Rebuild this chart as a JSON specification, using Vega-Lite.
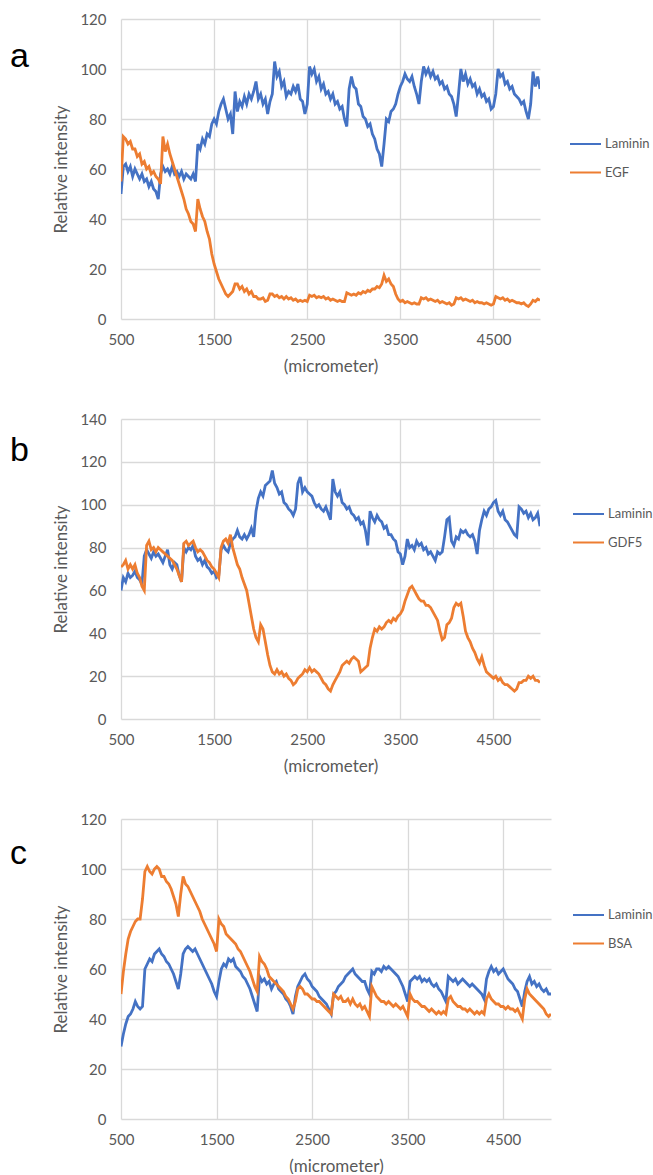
{
  "$schema": "https://vega.github.io/schema/vega-lite/v6.json",
  "padding": {"left": 10, "top": 12, "right": 0, "bottom": 0},
  "autosize": {"type": "pad"},
  "bounds": "flush",
  "spacing": 100,
  "config": {
    "view": {"stroke": null},
    "font": "Lato",
    "axis": {"grid": true, "gridColor": "#d9d9d9", "gridWidth": 1.3, "domain": false, "ticks": false, "labelColor": "#595959", "labelFont": "Lato", "labelFontSize": 15, "titleColor": "#595959", "titleFont": "Lato", "titleFontSize": 17, "titleFontWeight": "normal"},
    "axisX": {"labelPadding": 13, "titlePadding": 11, "labelFlush": false, "format": "d"},
    "axisY": {"labelPadding": 15, "titlePadding": 9},
    "legend": {"title": null, "orient": "none", "padding": 0, "symbolType": "M-1.24,0H1.24", "symbolSize": 625, "symbolStrokeWidth": 2, "labelOffset": 6, "labelFont": "Lato", "labelFontSize": 13, "labelColor": "#595959", "rowPadding": 7.5},
    "title": {"anchor": "start", "frame": "group", "orient": "top", "font": "Liberation Sans", "fontSize": 34, "fontWeight": "normal", "color": "#000000", "baseline": "alphabetic", "offset": 0}
  },
  "resolve": {"scale": {"color": "independent", "x": "independent", "y": "independent"}, "legend": {"color": "independent"}},
  "datasets": {
    "a": [
      {"x":500,"Laminin":50,"EGF":55},{"x":525,"Laminin":61,"EGF":73},{"x":550,"Laminin":62,"EGF":72},{"x":575,"Laminin":59,"EGF":70},{"x":600,"Laminin":61,"EGF":71},{"x":625,"Laminin":57,"EGF":68},{"x":650,"Laminin":60,"EGF":68},{"x":675,"Laminin":58,"EGF":65},{"x":700,"Laminin":56,"EGF":66},{"x":725,"Laminin":58,"EGF":62},{"x":750,"Laminin":55,"EGF":63},{"x":775,"Laminin":56,"EGF":60},{"x":800,"Laminin":53,"EGF":61},{"x":825,"Laminin":55,"EGF":58},{"x":850,"Laminin":52,"EGF":59},{"x":875,"Laminin":51,"EGF":57},{"x":900,"Laminin":48,"EGF":56},{"x":925,"Laminin":58,"EGF":54},{"x":950,"Laminin":61,"EGF":73},{"x":975,"Laminin":59,"EGF":67},{"x":1000,"Laminin":60,"EGF":70},{"x":1025,"Laminin":58,"EGF":66},{"x":1050,"Laminin":61,"EGF":63},{"x":1075,"Laminin":58,"EGF":60},{"x":1100,"Laminin":59,"EGF":57},{"x":1125,"Laminin":57,"EGF":54},{"x":1150,"Laminin":59,"EGF":51},{"x":1175,"Laminin":56,"EGF":48},{"x":1200,"Laminin":58,"EGF":44},{"x":1225,"Laminin":57,"EGF":42},{"x":1250,"Laminin":56,"EGF":39},{"x":1275,"Laminin":58,"EGF":38},{"x":1300,"Laminin":55,"EGF":35},{"x":1325,"Laminin":70,"EGF":48},{"x":1350,"Laminin":68,"EGF":44},{"x":1375,"Laminin":72,"EGF":41},{"x":1400,"Laminin":70,"EGF":39},{"x":1425,"Laminin":74,"EGF":35},{"x":1450,"Laminin":73,"EGF":32},{"x":1475,"Laminin":78,"EGF":26},{"x":1500,"Laminin":80,"EGF":22},{"x":1525,"Laminin":78,"EGF":19},{"x":1550,"Laminin":83,"EGF":16},{"x":1575,"Laminin":86,"EGF":14},{"x":1600,"Laminin":88,"EGF":12},{"x":1625,"Laminin":84,"EGF":10},{"x":1650,"Laminin":80,"EGF":9},{"x":1675,"Laminin":82,"EGF":10},{"x":1700,"Laminin":74,"EGF":11},{"x":1725,"Laminin":91,"EGF":14},{"x":1750,"Laminin":83,"EGF":14},{"x":1775,"Laminin":87,"EGF":12},{"x":1800,"Laminin":85,"EGF":13},{"x":1825,"Laminin":89,"EGF":11},{"x":1850,"Laminin":86,"EGF":12},{"x":1875,"Laminin":90,"EGF":10},{"x":1900,"Laminin":88,"EGF":11},{"x":1925,"Laminin":91,"EGF":9},{"x":1950,"Laminin":95,"EGF":9},{"x":1975,"Laminin":88,"EGF":8},{"x":2000,"Laminin":90,"EGF":8},{"x":2025,"Laminin":86,"EGF":8.5},{"x":2050,"Laminin":88,"EGF":7},{"x":2075,"Laminin":82,"EGF":7.5},{"x":2100,"Laminin":87,"EGF":10},{"x":2125,"Laminin":90,"EGF":10},{"x":2150,"Laminin":103,"EGF":9},{"x":2175,"Laminin":97,"EGF":9.5},{"x":2200,"Laminin":99,"EGF":8.5},{"x":2225,"Laminin":93,"EGF":9},{"x":2250,"Laminin":95,"EGF":8},{"x":2275,"Laminin":89,"EGF":9},{"x":2300,"Laminin":91,"EGF":8},{"x":2325,"Laminin":90,"EGF":8.5},{"x":2350,"Laminin":93,"EGF":7.5},{"x":2375,"Laminin":91,"EGF":8},{"x":2400,"Laminin":94,"EGF":7},{"x":2425,"Laminin":88,"EGF":7.5},{"x":2450,"Laminin":87,"EGF":7},{"x":2475,"Laminin":82,"EGF":7.5},{"x":2500,"Laminin":86,"EGF":7},{"x":2525,"Laminin":101,"EGF":9.5},{"x":2550,"Laminin":98,"EGF":9},{"x":2575,"Laminin":100,"EGF":9.5},{"x":2600,"Laminin":95,"EGF":8.5},{"x":2625,"Laminin":97,"EGF":9},{"x":2650,"Laminin":92,"EGF":8.5},{"x":2675,"Laminin":94,"EGF":9},{"x":2700,"Laminin":90,"EGF":8},{"x":2725,"Laminin":91,"EGF":8.5},{"x":2750,"Laminin":88,"EGF":7.5},{"x":2775,"Laminin":90,"EGF":8},{"x":2800,"Laminin":86,"EGF":7.5},{"x":2825,"Laminin":87,"EGF":7},{"x":2850,"Laminin":84,"EGF":7.5},{"x":2875,"Laminin":85,"EGF":7},{"x":2900,"Laminin":80,"EGF":7},{"x":2925,"Laminin":77,"EGF":10.5},{"x":2950,"Laminin":92,"EGF":10},{"x":2975,"Laminin":97,"EGF":9.5},{"x":3000,"Laminin":93,"EGF":10},{"x":3025,"Laminin":92,"EGF":9.5},{"x":3050,"Laminin":86,"EGF":10.5},{"x":3075,"Laminin":85,"EGF":10},{"x":3100,"Laminin":81,"EGF":11},{"x":3125,"Laminin":80,"EGF":10.5},{"x":3150,"Laminin":77,"EGF":11.5},{"x":3175,"Laminin":78,"EGF":11},{"x":3200,"Laminin":74,"EGF":12},{"x":3225,"Laminin":72,"EGF":12},{"x":3250,"Laminin":68,"EGF":13},{"x":3275,"Laminin":66,"EGF":12.5},{"x":3300,"Laminin":61,"EGF":14},{"x":3325,"Laminin":70,"EGF":17.5},{"x":3350,"Laminin":80,"EGF":15},{"x":3375,"Laminin":79,"EGF":16},{"x":3400,"Laminin":83,"EGF":14},{"x":3425,"Laminin":84,"EGF":13},{"x":3450,"Laminin":86,"EGF":10},{"x":3475,"Laminin":90,"EGF":8},{"x":3500,"Laminin":93,"EGF":7},{"x":3525,"Laminin":95,"EGF":7.5},{"x":3550,"Laminin":98,"EGF":6.5},{"x":3575,"Laminin":96,"EGF":7},{"x":3600,"Laminin":95,"EGF":6.5},{"x":3625,"Laminin":97,"EGF":6},{"x":3650,"Laminin":93,"EGF":6.5},{"x":3675,"Laminin":90,"EGF":6},{"x":3700,"Laminin":86,"EGF":6},{"x":3725,"Laminin":95,"EGF":8.5},{"x":3750,"Laminin":101,"EGF":8},{"x":3775,"Laminin":98,"EGF":8.5},{"x":3800,"Laminin":100,"EGF":7.5},{"x":3825,"Laminin":97,"EGF":8},{"x":3850,"Laminin":99,"EGF":7.5},{"x":3875,"Laminin":96,"EGF":7},{"x":3900,"Laminin":97,"EGF":7.5},{"x":3925,"Laminin":94,"EGF":6.5},{"x":3950,"Laminin":95,"EGF":7},{"x":3975,"Laminin":92,"EGF":6.5},{"x":4000,"Laminin":93,"EGF":6},{"x":4025,"Laminin":90,"EGF":6.5},{"x":4050,"Laminin":89,"EGF":5.5},{"x":4075,"Laminin":86,"EGF":6},{"x":4100,"Laminin":81,"EGF":8.5},{"x":4125,"Laminin":90,"EGF":8},{"x":4150,"Laminin":100,"EGF":8.5},{"x":4175,"Laminin":95,"EGF":7.5},{"x":4200,"Laminin":98,"EGF":8},{"x":4225,"Laminin":94,"EGF":7.5},{"x":4250,"Laminin":96,"EGF":7},{"x":4275,"Laminin":93,"EGF":7.5},{"x":4300,"Laminin":94,"EGF":6.5},{"x":4325,"Laminin":90,"EGF":7},{"x":4350,"Laminin":92,"EGF":6.5},{"x":4375,"Laminin":89,"EGF":6.5},{"x":4400,"Laminin":90,"EGF":6},{"x":4425,"Laminin":87,"EGF":6.5},{"x":4450,"Laminin":88,"EGF":6},{"x":4475,"Laminin":84,"EGF":5.5},{"x":4500,"Laminin":85,"EGF":6},{"x":4525,"Laminin":90,"EGF":9},{"x":4550,"Laminin":100,"EGF":8.5},{"x":4575,"Laminin":97,"EGF":8},{"x":4600,"Laminin":98,"EGF":8.5},{"x":4625,"Laminin":94,"EGF":7.5},{"x":4650,"Laminin":95,"EGF":8},{"x":4675,"Laminin":92,"EGF":7},{"x":4700,"Laminin":93,"EGF":7.5},{"x":4725,"Laminin":90,"EGF":7},{"x":4750,"Laminin":89,"EGF":6.5},{"x":4775,"Laminin":88,"EGF":6.5},{"x":4800,"Laminin":86,"EGF":6},{"x":4825,"Laminin":87,"EGF":6.5},{"x":4850,"Laminin":83,"EGF":5.5},{"x":4875,"Laminin":80,"EGF":5},{"x":4900,"Laminin":86,"EGF":6},{"x":4925,"Laminin":99,"EGF":7.5},{"x":4950,"Laminin":93,"EGF":7},{"x":4975,"Laminin":97,"EGF":8},{"x":5000,"Laminin":92,"EGF":7.5}
    ],
    "b": [
      {"x":500,"Laminin":60,"GDF5":71},{"x":525,"Laminin":66,"GDF5":72},{"x":550,"Laminin":64,"GDF5":74},{"x":575,"Laminin":68,"GDF5":70},{"x":600,"Laminin":66,"GDF5":72},{"x":625,"Laminin":67,"GDF5":70},{"x":650,"Laminin":69,"GDF5":72},{"x":675,"Laminin":66,"GDF5":68},{"x":700,"Laminin":65,"GDF5":66},{"x":725,"Laminin":63,"GDF5":62},{"x":750,"Laminin":76,"GDF5":60},{"x":775,"Laminin":79,"GDF5":81},{"x":800,"Laminin":77,"GDF5":83},{"x":825,"Laminin":75,"GDF5":79},{"x":850,"Laminin":78,"GDF5":80},{"x":875,"Laminin":76,"GDF5":78},{"x":900,"Laminin":77,"GDF5":80},{"x":925,"Laminin":75,"GDF5":79},{"x":950,"Laminin":73,"GDF5":78},{"x":975,"Laminin":76,"GDF5":77},{"x":1000,"Laminin":79,"GDF5":76},{"x":1025,"Laminin":72,"GDF5":75},{"x":1050,"Laminin":70,"GDF5":74},{"x":1075,"Laminin":73,"GDF5":72},{"x":1100,"Laminin":72,"GDF5":70},{"x":1125,"Laminin":67,"GDF5":67},{"x":1150,"Laminin":64,"GDF5":64},{"x":1175,"Laminin":80,"GDF5":82},{"x":1200,"Laminin":78,"GDF5":83},{"x":1225,"Laminin":80,"GDF5":81},{"x":1250,"Laminin":79,"GDF5":82},{"x":1275,"Laminin":81,"GDF5":83},{"x":1300,"Laminin":76,"GDF5":80},{"x":1325,"Laminin":74,"GDF5":78},{"x":1350,"Laminin":75,"GDF5":79},{"x":1375,"Laminin":72,"GDF5":78},{"x":1400,"Laminin":74,"GDF5":76},{"x":1425,"Laminin":71,"GDF5":74},{"x":1450,"Laminin":70,"GDF5":73},{"x":1475,"Laminin":68,"GDF5":71},{"x":1500,"Laminin":69,"GDF5":70},{"x":1525,"Laminin":66,"GDF5":68},{"x":1550,"Laminin":67,"GDF5":66},{"x":1575,"Laminin":79,"GDF5":80},{"x":1600,"Laminin":81,"GDF5":83},{"x":1625,"Laminin":79,"GDF5":84},{"x":1650,"Laminin":78,"GDF5":82},{"x":1675,"Laminin":82,"GDF5":86},{"x":1700,"Laminin":84,"GDF5":80},{"x":1725,"Laminin":85,"GDF5":76},{"x":1750,"Laminin":88,"GDF5":72},{"x":1775,"Laminin":85,"GDF5":70},{"x":1800,"Laminin":84,"GDF5":66},{"x":1825,"Laminin":86,"GDF5":63},{"x":1850,"Laminin":84,"GDF5":60},{"x":1875,"Laminin":86,"GDF5":54},{"x":1900,"Laminin":89,"GDF5":48},{"x":1925,"Laminin":85,"GDF5":42},{"x":1950,"Laminin":97,"GDF5":38},{"x":1975,"Laminin":103,"GDF5":36},{"x":2000,"Laminin":106,"GDF5":44},{"x":2025,"Laminin":104,"GDF5":42},{"x":2050,"Laminin":109,"GDF5":36},{"x":2075,"Laminin":110,"GDF5":30},{"x":2100,"Laminin":111,"GDF5":25},{"x":2125,"Laminin":116,"GDF5":22},{"x":2150,"Laminin":110,"GDF5":21},{"x":2175,"Laminin":108,"GDF5":23},{"x":2200,"Laminin":105,"GDF5":21},{"x":2225,"Laminin":106,"GDF5":22},{"x":2250,"Laminin":101,"GDF5":20},{"x":2275,"Laminin":100,"GDF5":21},{"x":2300,"Laminin":98,"GDF5":19},{"x":2325,"Laminin":97,"GDF5":18},{"x":2350,"Laminin":95,"GDF5":16},{"x":2375,"Laminin":98,"GDF5":17},{"x":2400,"Laminin":110,"GDF5":19},{"x":2425,"Laminin":113,"GDF5":20},{"x":2450,"Laminin":106,"GDF5":21},{"x":2475,"Laminin":108,"GDF5":23},{"x":2500,"Laminin":106,"GDF5":22},{"x":2525,"Laminin":105,"GDF5":24},{"x":2550,"Laminin":104,"GDF5":22},{"x":2575,"Laminin":101,"GDF5":23},{"x":2600,"Laminin":99,"GDF5":22},{"x":2625,"Laminin":100,"GDF5":21},{"x":2650,"Laminin":98,"GDF5":19},{"x":2675,"Laminin":97,"GDF5":17},{"x":2700,"Laminin":99,"GDF5":16},{"x":2725,"Laminin":96,"GDF5":14},{"x":2750,"Laminin":93,"GDF5":13},{"x":2775,"Laminin":112,"GDF5":16},{"x":2800,"Laminin":106,"GDF5":18},{"x":2825,"Laminin":104,"GDF5":20},{"x":2850,"Laminin":106,"GDF5":22},{"x":2875,"Laminin":101,"GDF5":25},{"x":2900,"Laminin":100,"GDF5":26},{"x":2925,"Laminin":98,"GDF5":27},{"x":2950,"Laminin":99,"GDF5":26},{"x":2975,"Laminin":96,"GDF5":28},{"x":3000,"Laminin":95,"GDF5":29},{"x":3025,"Laminin":93,"GDF5":28},{"x":3050,"Laminin":94,"GDF5":27},{"x":3075,"Laminin":91,"GDF5":22},{"x":3100,"Laminin":92,"GDF5":23},{"x":3125,"Laminin":88,"GDF5":24},{"x":3150,"Laminin":81,"GDF5":25},{"x":3175,"Laminin":97,"GDF5":33},{"x":3200,"Laminin":94,"GDF5":38},{"x":3225,"Laminin":92,"GDF5":42},{"x":3250,"Laminin":95,"GDF5":41},{"x":3275,"Laminin":93,"GDF5":43},{"x":3300,"Laminin":92,"GDF5":42},{"x":3325,"Laminin":89,"GDF5":43},{"x":3350,"Laminin":90,"GDF5":45},{"x":3375,"Laminin":86,"GDF5":46},{"x":3400,"Laminin":86,"GDF5":45},{"x":3425,"Laminin":84,"GDF5":47},{"x":3450,"Laminin":83,"GDF5":46},{"x":3475,"Laminin":78,"GDF5":48},{"x":3500,"Laminin":77,"GDF5":49},{"x":3525,"Laminin":72,"GDF5":51},{"x":3550,"Laminin":76,"GDF5":55},{"x":3575,"Laminin":84,"GDF5":58},{"x":3600,"Laminin":80,"GDF5":61},{"x":3625,"Laminin":81,"GDF5":62},{"x":3650,"Laminin":79,"GDF5":60},{"x":3675,"Laminin":83,"GDF5":58},{"x":3700,"Laminin":81,"GDF5":56},{"x":3725,"Laminin":82,"GDF5":55},{"x":3750,"Laminin":79,"GDF5":55},{"x":3775,"Laminin":80,"GDF5":53},{"x":3800,"Laminin":77,"GDF5":53},{"x":3825,"Laminin":78,"GDF5":52},{"x":3850,"Laminin":76,"GDF5":50},{"x":3875,"Laminin":74,"GDF5":48},{"x":3900,"Laminin":78,"GDF5":46},{"x":3925,"Laminin":77,"GDF5":41},{"x":3950,"Laminin":78,"GDF5":37},{"x":3975,"Laminin":85,"GDF5":38},{"x":4000,"Laminin":93,"GDF5":44},{"x":4025,"Laminin":94,"GDF5":45},{"x":4050,"Laminin":83,"GDF5":47},{"x":4075,"Laminin":81,"GDF5":52},{"x":4100,"Laminin":85,"GDF5":54},{"x":4125,"Laminin":84,"GDF5":53},{"x":4150,"Laminin":88,"GDF5":54},{"x":4175,"Laminin":87,"GDF5":48},{"x":4200,"Laminin":88,"GDF5":41},{"x":4225,"Laminin":86,"GDF5":38},{"x":4250,"Laminin":85,"GDF5":36},{"x":4275,"Laminin":86,"GDF5":33},{"x":4300,"Laminin":83,"GDF5":31},{"x":4325,"Laminin":77,"GDF5":28},{"x":4350,"Laminin":88,"GDF5":26},{"x":4375,"Laminin":93,"GDF5":29},{"x":4400,"Laminin":97,"GDF5":25},{"x":4425,"Laminin":95,"GDF5":22},{"x":4450,"Laminin":98,"GDF5":21},{"x":4475,"Laminin":99,"GDF5":20},{"x":4500,"Laminin":101,"GDF5":19},{"x":4525,"Laminin":102,"GDF5":20},{"x":4550,"Laminin":97,"GDF5":18},{"x":4575,"Laminin":95,"GDF5":19},{"x":4600,"Laminin":97,"GDF5":17},{"x":4625,"Laminin":93,"GDF5":16},{"x":4650,"Laminin":92,"GDF5":16},{"x":4675,"Laminin":90,"GDF5":15},{"x":4700,"Laminin":88,"GDF5":14},{"x":4725,"Laminin":86,"GDF5":13},{"x":4750,"Laminin":85,"GDF5":14},{"x":4775,"Laminin":99,"GDF5":17},{"x":4800,"Laminin":98,"GDF5":17},{"x":4825,"Laminin":96,"GDF5":18},{"x":4850,"Laminin":97,"GDF5":18},{"x":4875,"Laminin":94,"GDF5":20},{"x":4900,"Laminin":96,"GDF5":19},{"x":4925,"Laminin":93,"GDF5":20},{"x":4950,"Laminin":94,"GDF5":18},{"x":4975,"Laminin":96,"GDF5":18},{"x":5000,"Laminin":90,"GDF5":17}
    ],
    "c": [
      {"x":500,"Laminin":29,"BSA":50},{"x":525,"Laminin":34,"BSA":59},{"x":550,"Laminin":38,"BSA":66},{"x":575,"Laminin":41,"BSA":72},{"x":600,"Laminin":42,"BSA":75},{"x":625,"Laminin":44,"BSA":77},{"x":650,"Laminin":47,"BSA":79},{"x":675,"Laminin":45,"BSA":80},{"x":700,"Laminin":44,"BSA":80},{"x":725,"Laminin":45,"BSA":88},{"x":750,"Laminin":60,"BSA":99},{"x":775,"Laminin":62,"BSA":101},{"x":800,"Laminin":64,"BSA":99},{"x":825,"Laminin":63,"BSA":98},{"x":850,"Laminin":66,"BSA":100},{"x":875,"Laminin":67,"BSA":101},{"x":900,"Laminin":68,"BSA":100},{"x":925,"Laminin":66,"BSA":97},{"x":950,"Laminin":65,"BSA":97},{"x":975,"Laminin":63,"BSA":95},{"x":1000,"Laminin":62,"BSA":94},{"x":1025,"Laminin":60,"BSA":92},{"x":1050,"Laminin":58,"BSA":89},{"x":1075,"Laminin":55,"BSA":86},{"x":1100,"Laminin":52,"BSA":81},{"x":1125,"Laminin":58,"BSA":90},{"x":1150,"Laminin":66,"BSA":97},{"x":1175,"Laminin":68,"BSA":94},{"x":1200,"Laminin":69,"BSA":93},{"x":1225,"Laminin":68,"BSA":91},{"x":1250,"Laminin":67,"BSA":89},{"x":1275,"Laminin":68,"BSA":87},{"x":1300,"Laminin":66,"BSA":85},{"x":1325,"Laminin":64,"BSA":83},{"x":1350,"Laminin":62,"BSA":80},{"x":1375,"Laminin":60,"BSA":78},{"x":1400,"Laminin":58,"BSA":76},{"x":1425,"Laminin":56,"BSA":74},{"x":1450,"Laminin":54,"BSA":72},{"x":1475,"Laminin":51,"BSA":70},{"x":1500,"Laminin":49,"BSA":67},{"x":1525,"Laminin":55,"BSA":80},{"x":1550,"Laminin":60,"BSA":78},{"x":1575,"Laminin":62,"BSA":77},{"x":1600,"Laminin":61,"BSA":74},{"x":1625,"Laminin":64,"BSA":73},{"x":1650,"Laminin":63,"BSA":72},{"x":1675,"Laminin":64,"BSA":71},{"x":1700,"Laminin":61,"BSA":70},{"x":1725,"Laminin":60,"BSA":68},{"x":1750,"Laminin":59,"BSA":67},{"x":1775,"Laminin":57,"BSA":65},{"x":1800,"Laminin":56,"BSA":63},{"x":1825,"Laminin":54,"BSA":61},{"x":1850,"Laminin":52,"BSA":59},{"x":1875,"Laminin":49,"BSA":56},{"x":1900,"Laminin":46,"BSA":53},{"x":1925,"Laminin":43,"BSA":51},{"x":1950,"Laminin":57,"BSA":65},{"x":1975,"Laminin":55,"BSA":63},{"x":2000,"Laminin":56,"BSA":62},{"x":2025,"Laminin":54,"BSA":60},{"x":2050,"Laminin":55,"BSA":57},{"x":2075,"Laminin":52,"BSA":56},{"x":2100,"Laminin":54,"BSA":55},{"x":2125,"Laminin":55,"BSA":54},{"x":2150,"Laminin":52,"BSA":53},{"x":2175,"Laminin":51,"BSA":52},{"x":2200,"Laminin":50,"BSA":51},{"x":2225,"Laminin":48,"BSA":49},{"x":2250,"Laminin":47,"BSA":48},{"x":2275,"Laminin":45,"BSA":46},{"x":2300,"Laminin":42,"BSA":44},{"x":2325,"Laminin":49,"BSA":47},{"x":2350,"Laminin":53,"BSA":52},{"x":2375,"Laminin":55,"BSA":53},{"x":2400,"Laminin":57,"BSA":52},{"x":2425,"Laminin":58,"BSA":50},{"x":2450,"Laminin":56,"BSA":50},{"x":2475,"Laminin":55,"BSA":49},{"x":2500,"Laminin":53,"BSA":48},{"x":2525,"Laminin":52,"BSA":48},{"x":2550,"Laminin":51,"BSA":47},{"x":2575,"Laminin":49,"BSA":47},{"x":2600,"Laminin":48,"BSA":46},{"x":2625,"Laminin":47,"BSA":45},{"x":2650,"Laminin":46,"BSA":44},{"x":2675,"Laminin":44,"BSA":43},{"x":2700,"Laminin":42,"BSA":42},{"x":2725,"Laminin":50,"BSA":50},{"x":2750,"Laminin":51,"BSA":49},{"x":2775,"Laminin":53,"BSA":48},{"x":2800,"Laminin":54,"BSA":49},{"x":2825,"Laminin":55,"BSA":47},{"x":2850,"Laminin":57,"BSA":47},{"x":2875,"Laminin":58,"BSA":48},{"x":2900,"Laminin":59,"BSA":46},{"x":2925,"Laminin":60,"BSA":48},{"x":2950,"Laminin":58,"BSA":46},{"x":2975,"Laminin":57,"BSA":45},{"x":3000,"Laminin":56,"BSA":46},{"x":3025,"Laminin":55,"BSA":44},{"x":3050,"Laminin":55,"BSA":45},{"x":3075,"Laminin":52,"BSA":43},{"x":3100,"Laminin":50,"BSA":41},{"x":3125,"Laminin":59,"BSA":53},{"x":3150,"Laminin":58,"BSA":51},{"x":3175,"Laminin":60,"BSA":49},{"x":3200,"Laminin":60,"BSA":48},{"x":3225,"Laminin":59,"BSA":47},{"x":3250,"Laminin":61,"BSA":47},{"x":3275,"Laminin":60,"BSA":46},{"x":3300,"Laminin":61,"BSA":47},{"x":3325,"Laminin":60,"BSA":46},{"x":3350,"Laminin":59,"BSA":45},{"x":3375,"Laminin":58,"BSA":46},{"x":3400,"Laminin":57,"BSA":45},{"x":3425,"Laminin":55,"BSA":44},{"x":3450,"Laminin":53,"BSA":45},{"x":3475,"Laminin":50,"BSA":43},{"x":3500,"Laminin":47,"BSA":41},{"x":3525,"Laminin":55,"BSA":50},{"x":3550,"Laminin":56,"BSA":48},{"x":3575,"Laminin":57,"BSA":47},{"x":3600,"Laminin":56,"BSA":47},{"x":3625,"Laminin":57,"BSA":46},{"x":3650,"Laminin":55,"BSA":45},{"x":3675,"Laminin":56,"BSA":45},{"x":3700,"Laminin":55,"BSA":44},{"x":3725,"Laminin":56,"BSA":43},{"x":3750,"Laminin":54,"BSA":44},{"x":3775,"Laminin":53,"BSA":43},{"x":3800,"Laminin":54,"BSA":42},{"x":3825,"Laminin":52,"BSA":43},{"x":3850,"Laminin":51,"BSA":42},{"x":3875,"Laminin":49,"BSA":43},{"x":3900,"Laminin":47,"BSA":42},{"x":3925,"Laminin":57,"BSA":48},{"x":3950,"Laminin":56,"BSA":49},{"x":3975,"Laminin":55,"BSA":47},{"x":4000,"Laminin":56,"BSA":46},{"x":4025,"Laminin":54,"BSA":45},{"x":4050,"Laminin":55,"BSA":45},{"x":4075,"Laminin":56,"BSA":44},{"x":4100,"Laminin":55,"BSA":44},{"x":4125,"Laminin":54,"BSA":43},{"x":4150,"Laminin":53,"BSA":44},{"x":4175,"Laminin":54,"BSA":43},{"x":4200,"Laminin":53,"BSA":42},{"x":4225,"Laminin":52,"BSA":43},{"x":4250,"Laminin":51,"BSA":42},{"x":4275,"Laminin":50,"BSA":43},{"x":4300,"Laminin":48,"BSA":42},{"x":4325,"Laminin":56,"BSA":48},{"x":4350,"Laminin":59,"BSA":50},{"x":4375,"Laminin":61,"BSA":48},{"x":4400,"Laminin":59,"BSA":47},{"x":4425,"Laminin":60,"BSA":46},{"x":4450,"Laminin":58,"BSA":46},{"x":4475,"Laminin":59,"BSA":45},{"x":4500,"Laminin":60,"BSA":45},{"x":4525,"Laminin":58,"BSA":44},{"x":4550,"Laminin":56,"BSA":45},{"x":4575,"Laminin":55,"BSA":44},{"x":4600,"Laminin":54,"BSA":44},{"x":4625,"Laminin":52,"BSA":43},{"x":4650,"Laminin":51,"BSA":44},{"x":4675,"Laminin":48,"BSA":42},{"x":4700,"Laminin":45,"BSA":40},{"x":4725,"Laminin":51,"BSA":48},{"x":4750,"Laminin":55,"BSA":52},{"x":4775,"Laminin":57,"BSA":50},{"x":4800,"Laminin":54,"BSA":49},{"x":4825,"Laminin":55,"BSA":48},{"x":4850,"Laminin":53,"BSA":47},{"x":4875,"Laminin":54,"BSA":46},{"x":4900,"Laminin":52,"BSA":45},{"x":4925,"Laminin":51,"BSA":44},{"x":4950,"Laminin":52,"BSA":42},{"x":4975,"Laminin":50,"BSA":41},{"x":5000,"Laminin":50,"BSA":42}
    ]
  },
  "vconcat": [
    {
      "width": 419, "height": 300,
      "title": {"text": "a", "dx": -111, "dy": 66},
      "data": {"name": "a"},
      "transform": [{"fold": ["Laminin", "EGF"], "as": ["series", "value"]}],
      "mark": {"type": "line", "strokeWidth": 2.8, "clip": true},
      "encoding": {
        "x": {"field": "x", "type": "quantitative", "scale": {"domain": [500, 5000], "nice": false, "zero": false}, "axis": {"values": [500, 1500, 2500, 3500, 4500], "title": "(micrometer)"}},
        "y": {"field": "value", "type": "quantitative", "scale": {"domain": [0, 120], "nice": false}, "axis": {"values": [0, 20, 40, 60, 80, 100, 120], "title": "Relative intensity"}},
        "color": {"field": "series", "type": "nominal", "scale": {"domain": ["Laminin", "EGF"], "range": ["#4472C4", "#ED7D31"]}, "legend": {"legendX": 451, "legendY": 111.5}}
      }
    },
    {
      "width": 419, "height": 300,
      "title": {"text": "b", "dx": -111, "dy": 60},
      "data": {"name": "b"},
      "transform": [{"fold": ["Laminin", "GDF5"], "as": ["series", "value"]}],
      "mark": {"type": "line", "strokeWidth": 2.8, "clip": true},
      "encoding": {
        "x": {"field": "x", "type": "quantitative", "scale": {"domain": [500, 5000], "nice": false, "zero": false}, "axis": {"values": [500, 1500, 2500, 3500, 4500], "title": "(micrometer)"}},
        "y": {"field": "value", "type": "quantitative", "scale": {"domain": [0, 140], "nice": false}, "axis": {"values": [0, 20, 40, 60, 80, 100, 120, 140], "title": "Relative intensity"}},
        "color": {"field": "series", "type": "nominal", "scale": {"domain": ["Laminin", "GDF5"], "range": ["#4472C4", "#ED7D31"]}, "legend": {"legendX": 454, "legendY": 81.5}}
      }
    },
    {
      "width": 430, "height": 300,
      "title": {"text": "c", "dx": -111, "dy": 63},
      "data": {"name": "c"},
      "transform": [{"fold": ["Laminin", "BSA"], "as": ["series", "value"]}],
      "mark": {"type": "line", "strokeWidth": 2.8, "clip": true},
      "encoding": {
        "x": {"field": "x", "type": "quantitative", "scale": {"domain": [500, 5000], "nice": false, "zero": false}, "axis": {"values": [500, 1500, 2500, 3500, 4500], "title": "(micrometer)"}},
        "y": {"field": "value", "type": "quantitative", "scale": {"domain": [0, 120], "nice": false}, "axis": {"values": [0, 20, 40, 60, 80, 100, 120], "title": "Relative intensity"}},
        "color": {"field": "series", "type": "nominal", "scale": {"domain": ["Laminin", "BSA"], "range": ["#4472C4", "#ED7D31"]}, "legend": {"legendX": 454, "legendY": 82.5}}
      }
    }
  ]
}
